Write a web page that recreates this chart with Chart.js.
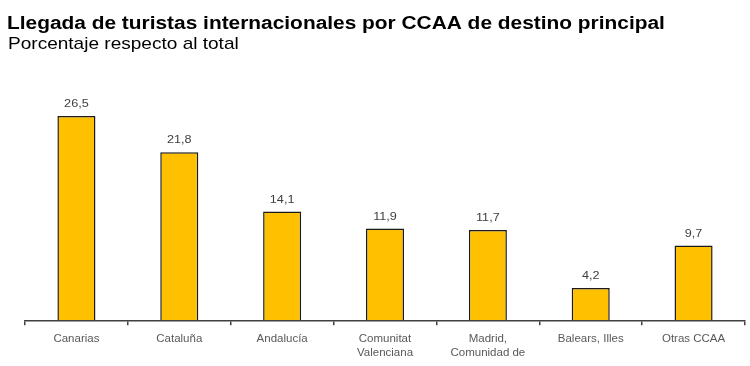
<!DOCTYPE html>
<html>
<head>
<meta charset="utf-8">
<script src="https://cdn.jsdelivr.net/npm/chart.js@4.4.1/dist/chart.umd.min.js"></script>
<style>
  html, body { margin: 0; padding: 0; background: #fff; }
  #wrap { width: 750px; height: 366px; }
</style>
</head>
<body>
<div id="wrap"><canvas id="chart"></canvas></div>
<script>
// Data
const categories = ['Canarias', 'Cataluña', 'Andalucía', ['Comunitat', 'Valenciana'], ['Madrid,', 'Comunidad de'], 'Balears, Illes', 'Otras CCAA'];
const shares = [26.5, 21.8, 14.1, 11.9, 11.7, 4.2, 9.7];
const yRange = [0, 30];
const titleText = 'Llegada de turistas internacionales por CCAA de destino principal';
const subtitleText = 'Porcentaje respecto al total';

// Title block, drawn slightly stretched like the source image
const headerText = {
    id: 'headerText',
    afterDraw(chart) {
        const ctx = chart.ctx;
        ctx.save();
        ctx.fillStyle = '#000';
        ctx.textBaseline = 'alphabetic';
        ctx.textAlign = 'left';

        ctx.save();
        ctx.translate(7, 29);
        ctx.scale(1.16, 1);
        ctx.font = 'bold 18px "Liberation Sans", Arial, sans-serif';
        ctx.fillText(titleText, 0, 0);
        ctx.restore();

        ctx.save();
        ctx.translate(8, 49);
        ctx.scale(1.12, 1);
        ctx.font = '17px "Liberation Sans", Arial, sans-serif';
        ctx.fillText(subtitleText, 0, 0);
        ctx.restore();

        ctx.restore();
    }
};

// Value labels above bars, with comma decimals
const valueLabels = {
    id: 'valueLabels',
    afterDatasetsDraw(chart) {
        const ctx = chart.ctx;
        const meta = chart.getDatasetMeta(0);
        ctx.save();
        ctx.font = '11px "Liberation Sans", Arial, sans-serif';
        ctx.fillStyle = '#404040';
        ctx.textAlign = 'center';
        ctx.textBaseline = 'middle';
        meta.data.forEach(function(bar, i) {
            ctx.save();
            ctx.translate(bar.x, bar.y - 12);
            ctx.scale(1.15, 1);
            ctx.fillText(shares[i].toFixed(1).replace('.', ','), 0, 0);
            ctx.restore();
        });
        ctx.restore();
    }
};

new Chart(document.getElementById('chart'), {
    type: 'bar',
    data: {
        labels: categories,
        datasets: [{
            data: shares,
            backgroundColor: '#FFC000',
            borderColor: '#1a1a1a',
            borderWidth: 1.5,
            barPercentage: 0.74,
            categoryPercentage: 0.5
        }]
    },
    options: {
        responsive: true,
        maintainAspectRatio: false,
        animation: false,
        layout: { padding: { left: 25, right: 5, top: 89, bottom: 0 } },
        plugins: {
            legend: { display: false },
            tooltip: { enabled: false },
            title: { display: false }
        },
        scales: {
            x: {
                grid: {
                    display: true,
                    drawOnChartArea: false,
                    drawTicks: true,
                    tickLength: 5,
                    color: '#404040',
                    lineWidth: 1.5
                },
                border: { display: true, color: '#404040', width: 1.5 },
                ticks: {
                    color: '#595959',
                    padding: 6,
                    maxRotation: 0,
                    autoSkip: false,
                    font: { family: '"Liberation Sans", Arial, sans-serif', size: 11.5, lineHeight: 1.25 }
                }
            },
            y: {
                display: false,
                min: yRange[0],
                max: yRange[1]
            }
        }
    },
    plugins: [valueLabels, headerText]
});
</script>
</body>
</html>
